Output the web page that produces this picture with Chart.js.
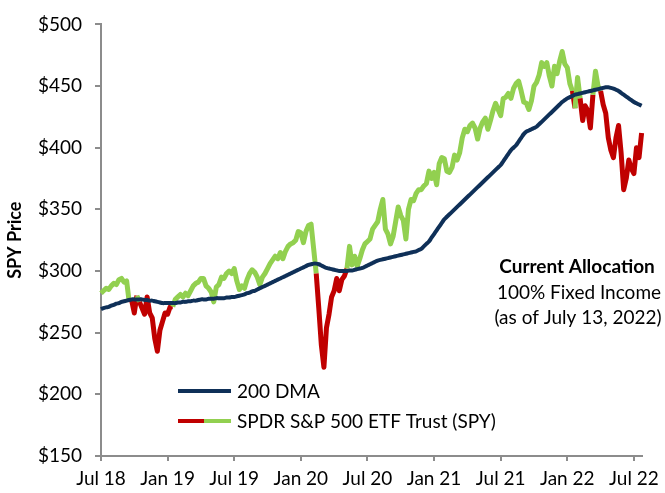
<!DOCTYPE html>
<html>
<head>
<meta charset="utf-8">
<script src="https://cdn.jsdelivr.net/npm/chart.js@4.4.0/dist/chart.umd.min.js"></script>
<style>
  html, body { margin: 0; padding: 0; background: #fff; }
  #wrap { position: relative; width: 665px; height: 493px; }
</style>
</head>
<body>
<div id="wrap"><canvas id="chart" width="665" height="493"></canvas></div>
<script>
// Weekly SPY price (week 0 = late Jul 2018)
const spyPrice = [
  282, 284, 286, 285, 288, 290, 289, 293, 294, 291,
  292, 275, 276, 266, 280, 275, 270, 265, 279, 266,
  262, 245, 235, 252, 259, 266, 265, 271, 271, 277,
  279, 281, 279, 282, 280, 284, 288, 290, 291, 294,
  294, 288, 286, 283, 275, 287, 289, 295, 294, 298,
  300, 298, 302, 292, 285, 288, 286, 293, 298, 301,
  299, 295, 289, 295, 298, 302, 306, 309, 312, 310,
  315, 310, 316, 320, 322, 323, 325, 332, 331, 323,
  332, 337, 338, 318, 298, 270, 240, 222, 254, 265,
  279, 284, 294, 284, 293, 296, 302, 320, 305, 312,
  304, 310, 317, 322, 324, 326, 334, 337, 340, 350,
  358, 334, 330, 322, 328, 340, 352, 345, 341, 326,
  350, 358, 357, 363, 366, 366, 369, 371, 381, 375,
  380, 370, 387, 392, 391, 381, 380, 384, 394, 390,
  396, 408, 415, 413, 418, 420, 416, 407, 416, 421,
  424, 415, 422, 430, 436, 431, 426, 440, 441, 444,
  440, 448, 452, 454, 446, 437, 436, 431, 438, 450,
  453, 459, 469, 466, 469, 458, 450, 466, 460, 470,
  478, 468, 465, 452, 446, 432, 457, 440, 422, 434,
  430, 416, 443, 462, 450, 446, 435, 428, 408, 398,
  392, 408, 418, 396, 366, 375, 390, 383, 379, 400,
  392, 412
];

// 200 day moving average, same weeks
const dma200 = [
  269, 270, 270.5, 271, 272, 272.5, 273.5, 274, 275, 275.5,
  276, 276.5, 277, 277, 277, 277, 277, 276.5, 276.5, 276,
  276, 275.5, 275, 274.5, 274, 274, 274, 274, 274, 274,
  274.5, 274.5, 275, 275, 275.5, 275.5, 276, 276, 276.5, 277,
  277, 277, 277.5, 277.5, 277.5, 278, 278, 278, 278, 278.5,
  278.5, 279, 279, 279.5, 280, 280.5, 281, 282, 282.5, 283.5,
  284, 285, 286, 287, 288, 289, 290, 291, 292, 293,
  294, 295, 296, 297, 298, 299, 300, 301, 302, 303,
  304, 305, 305.5, 306, 306, 305.5, 304.5, 303.5, 302.5, 302,
  301.5, 301, 300.5, 300, 300, 300, 300, 300.5, 300.5, 301,
  301.5, 302, 302.5, 303.5, 304.5, 305.5, 306.5, 307.5, 308.5, 309,
  309.5, 310, 310.5, 311, 311.5, 312, 312.5, 313, 313.5, 314,
  314.5, 315, 315.5, 316, 317, 318, 320, 322, 324, 327,
  330, 333, 336, 339, 342, 344, 346, 348, 350, 352,
  354, 356, 358, 360, 362, 364, 366, 368, 370, 372,
  374, 376, 378, 380, 382, 384, 386, 389, 392, 395,
  398, 400, 402, 405, 408, 411, 413, 414, 415, 416,
  417, 419, 421, 423, 425, 427, 429, 431, 433, 435,
  437, 438.5, 440, 441, 442, 443, 443.5, 444, 444.5, 445,
  445.5, 446, 446.5, 447, 447.5, 448, 448.5, 449, 449, 448.5,
  448, 447, 446, 444.5, 443, 441.5, 440, 438.5, 437, 436,
  435, 434
];

// x axis ticks (week index) and their labels
const tickWeeks = [0, 26, 52, 78, 104, 130, 156, 182, 208];
const tickLabels = ['Jul 18', 'Jan 19', 'Jul 19', 'Jan 20', 'Jul 20', 'Jan 21', 'Jul 21', 'Jan 22', 'Jul 22'];

const allocationText = ['Current Allocation', '100% Fixed Income', '(as of July 13, 2022)'];

const navy = '#0f3058';
const green = '#92d050';
const red = '#c00000';
const axisGray = '#8c8c8c';
const fontName = 'Lato';

const spyPoints = spyPrice.map((v, i) => ({ x: i, y: v }));
const dmaPoints = dma200.map((v, i) => ({ x: i, y: v }));

// verde si está sobre la media, rojo si está debajo
function segColor(ctx) {
  const a = ctx.p0DataIndex, b = ctx.p1DataIndex;
  const s = (spyPrice[a] + spyPrice[b]) / 2;
  const d = (dma200[a] + dma200[b]) / 2;
  return s >= d ? green : red;
}

const extras = {
  id: 'extras',
  afterDraw(chart) {
    const c = chart.ctx;
    c.save();
    c.lineCap = 'butt';
    // leyenda
    c.lineWidth = 4;
    c.strokeStyle = navy;
    c.beginPath(); c.moveTo(178, 391); c.lineTo(231, 391); c.stroke();
    c.strokeStyle = red;
    c.beginPath(); c.moveTo(178, 421); c.lineTo(204, 421); c.stroke();
    c.strokeStyle = green;
    c.beginPath(); c.moveTo(204, 421); c.lineTo(231, 421); c.stroke();
    c.fillStyle = '#000';
    c.font = '19px ' + fontName;
    c.textBaseline = 'middle';
    c.textAlign = 'left';
    c.fillText('200 DMA', 237, 392);
    c.fillText('SPDR S&P 500 ETF Trust (SPY)', 237, 422);
    // texto de asignación
    c.textAlign = 'center';
    c.font = 'bold 19px ' + fontName;
    c.fillText(allocationText[0], 577, 267);
    c.font = '19px ' + fontName;
    c.fillText(allocationText[1], 579, 293);
    c.fillText(allocationText[2], 578, 318);
    c.restore();
  }
};

new Chart(document.getElementById('chart').getContext('2d'), {
  type: 'line',
  data: {
    datasets: [
      {
        label: '200 DMA',
        data: dmaPoints,
        borderColor: navy,
        borderWidth: 4,
        pointRadius: 0,
        tension: 0.4,
        order: 0,
        clip: false
      },
      {
        label: 'SPDR S&P 500 ETF Trust (SPY)',
        data: spyPoints,
        borderColor: green,
        borderWidth: 5,
        pointRadius: 0,
        tension: 0,
        borderJoinStyle: 'round',
        segment: { borderColor: segColor },
        order: 1,
        clip: false
      }
    ]
  },
  options: {
    responsive: false,
    animation: false,
    layout: { padding: { top: 21, right: 15, left: 0, bottom: 0 } },
    plugins: {
      legend: { display: false },
      tooltip: { enabled: false }
    },
    scales: {
      x: {
        type: 'linear',
        min: 0,
        max: 211,
        afterBuildTicks: scale => { scale.ticks = tickWeeks.map(v => ({ value: v })); },
        afterFit: scale => { scale.height = 37; },
        ticks: {
          autoSkip: false,
          maxRotation: 0,
          padding: 6,
          color: '#000',
          font: { family: fontName, size: 19 },
          callback: (v) => tickLabels[tickWeeks.indexOf(v)]
        },
        grid: { drawOnChartArea: false, drawTicks: true, tickLength: 5, color: axisGray, lineWidth: 2 },
        border: { color: axisGray, width: 2 }
      },
      y: {
        min: 150,
        max: 500,
        afterFit: scale => { scale.width = 101; },
        ticks: {
          stepSize: 50,
          padding: 13,
          color: '#000',
          font: { family: fontName, size: 19 },
          callback: v => '$' + v
        },
        title: {
          display: true,
          text: 'SPY Price',
          color: '#000',
          font: { family: fontName, size: 18, weight: 'bold' },
          padding: { top: 4, bottom: 0 }
        },
        grid: { drawOnChartArea: false, drawTicks: true, tickLength: 6, color: axisGray, lineWidth: 2 },
        border: { color: axisGray, width: 2 }
      }
    }
  },
  plugins: [extras]
});
</script>
</body>
</html>
